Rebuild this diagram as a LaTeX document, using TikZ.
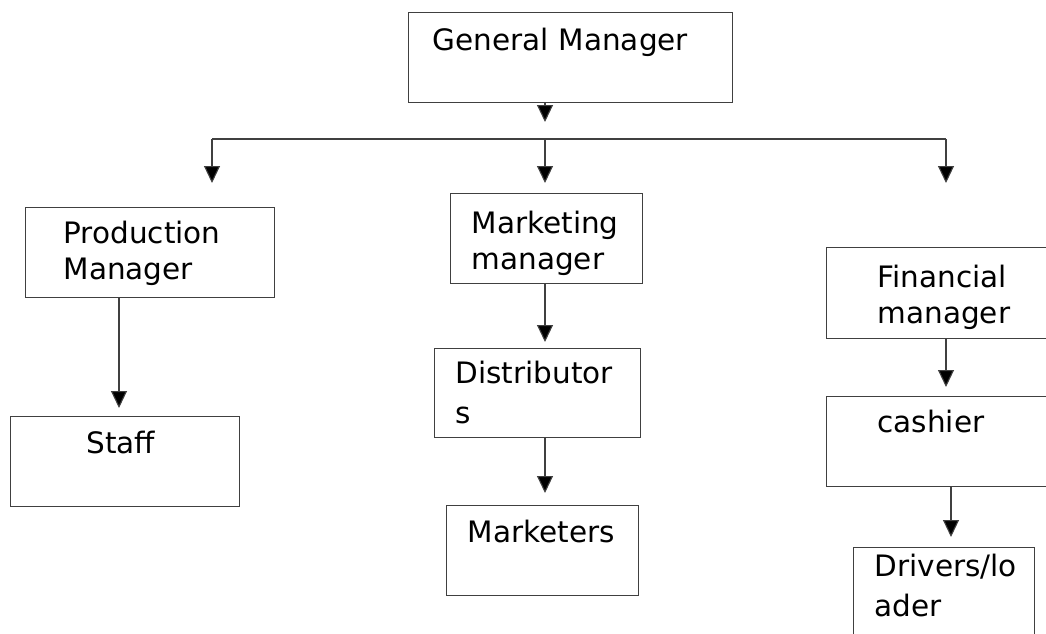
\documentclass[tikz,border=0pt]{standalone}
\usepackage{fontspec}
\setmainfont{DejaVu Sans}
\usepackage{tikz}
\usetikzlibrary{calc,arrows.meta}

\tikzset{
  box/.style={draw=black!75, line width=1.2pt, rectangle, anchor=north west,
    inner ysep=0pt, align=left, font=\fontsize{29.5}{36}\selectfont},
  link/.style={draw=black!75, line width=1.1pt},
  arr/.style={link, -{Triangle[length=17pt,width=16pt,fill=black]}}
}

\begin{document}
\begin{tikzpicture}[x=1pt,y=-1pt]
  \useasboundingbox (0,0) rectangle (1046,634);

  % boxes
  \node[box, text width=276pt, inner xsep=24pt, text height=38pt, text depth=52pt] (gm) at (408,12) {General Manager};
  \node[box, text width=173pt, inner xsep=38pt, text height=36pt, text depth=54pt] (pm) at (25,207) {Production\\Manager};
  \node[box, text width=77pt, inner xsep=76pt, text height=37pt, text depth=53pt] (staff) at (10,416) {Staff};
  \node[box, text width=150pt, inner xsep=21pt, text height=40pt, text depth=50pt] (mm) at (450,193) {Marketing\\manager};
  \node[box, text width=164pt, inner xsep=21pt, text height=35pt, text depth=54pt] (dist) at (434,348) {Distributor\\[4pt]s};
  \node[box, text width=150pt, inner xsep=21pt, text height=37pt, text depth=53pt] (mkt) at (446,505) {Marketers};
  \node[box, text width=196pt, inner xsep=51pt, text height=40pt, text depth=51pt] (fm) at (826,247) {Financial\\manager};
  \node[box, text width=196pt, inner xsep=51pt, text height=36pt, text depth=54pt] (cash) at (826,396) {cashier};
  \node[box, text width=139pt, inner xsep=21pt, text height=29pt, text depth=71pt] (drv) at (853,547) {Drivers/lo\\[4pt]ader};

  % arrow ends
  \coordinate (gmtip) at (545,122);
  \coordinate (busL) at (212,139);
  \coordinate (busR) at (946,139);
  \coordinate (pmtip) at (212,183);
  \coordinate (mmtip) at (545,183);
  \coordinate (fmtip) at (946,183);
  \coordinate (stafftip) at (119,408);
  \coordinate (disttip) at (545,342);
  \coordinate (mkttip) at (545,493);
  \coordinate (cashtip) at (946,387);
  \coordinate (drvtip) at (951,537);

  % connectors
  \draw[arr] (gm.south -| gmtip) -- (gmtip);
  \draw[link] (busL) -- (busR);
  \foreach \t in {pmtip,mmtip,fmtip} {
    \draw[arr] (\t |- busL) -- (\t);
  }
  \draw[arr] (pm.south -| stafftip) -- (stafftip);
  \draw[arr] (mm.south -| disttip) -- (disttip);
  \draw[arr] (dist.south -| mkttip) -- (mkttip);
  \draw[arr] (fm.south -| cashtip) -- (cashtip);
  \draw[arr] (cash.south -| drvtip) -- (drvtip);
\end{tikzpicture}
\end{document}
